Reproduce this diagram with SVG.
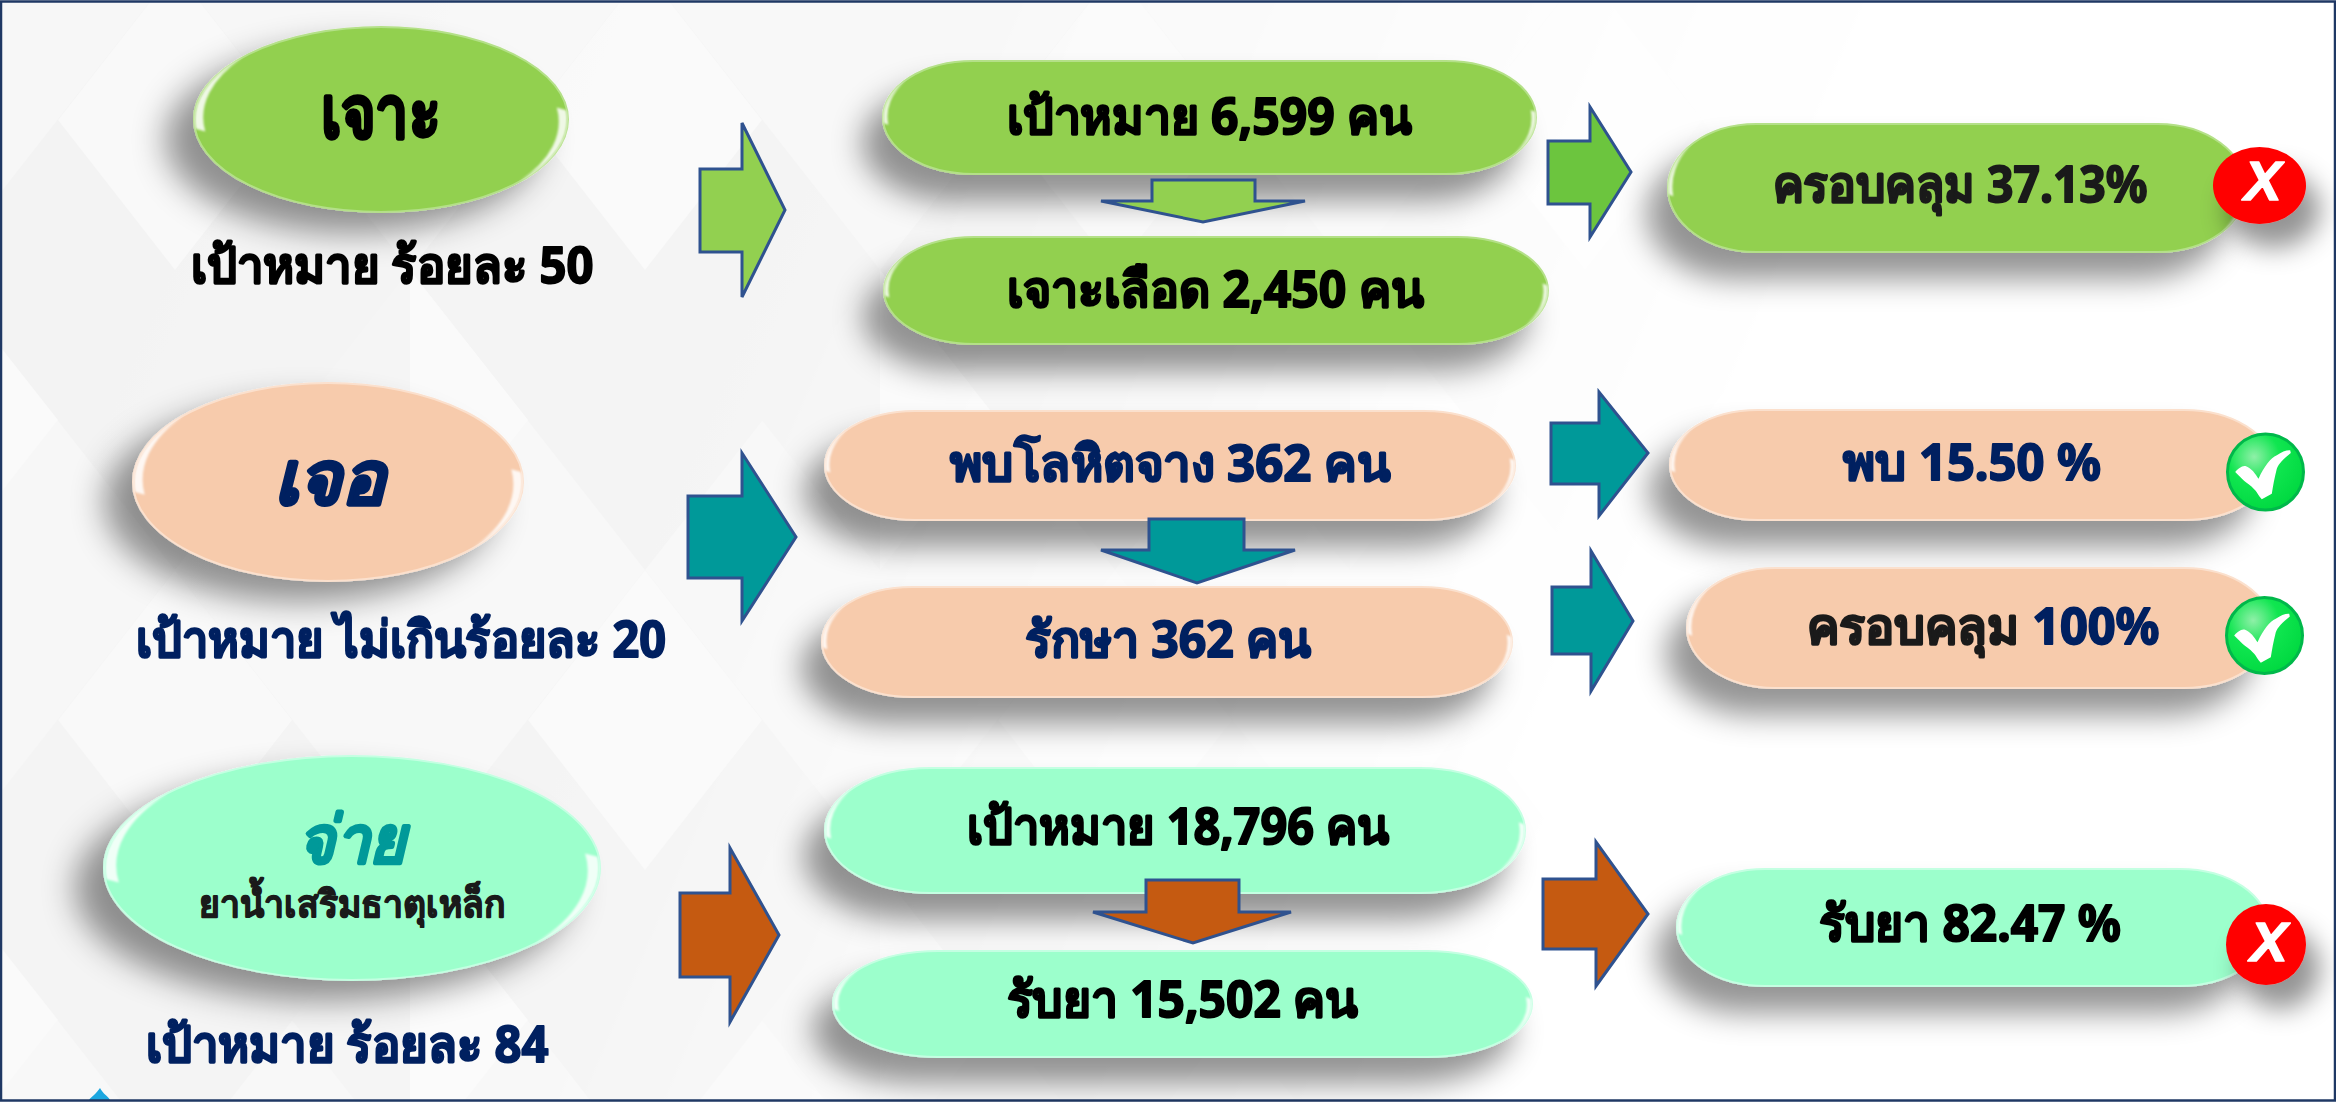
<svg xmlns="http://www.w3.org/2000/svg" width="2336" height="1102" viewBox="0 0 2336 1102">
<style>
text{font-family:"Noto Sans",sans-serif;font-weight:700;text-anchor:middle;stroke-width:1.9;stroke-linejoin:round}
.k{fill:#000;stroke:#000}.n{fill:#002060;stroke:#002060}.d{fill:#1a1a1a;stroke:#1a1a1a}.t{fill:#009999;stroke:#009999}
.i{font-style:italic}
.x{font-family:"Liberation Sans",sans-serif;font-style:italic;font-size:56px;fill:#fff;stroke:#fff;stroke-width:1.5}
.a{stroke:#2f528f;stroke-width:3;stroke-linejoin:miter}
.g{fill:#92d050;stroke:#b4e088;stroke-width:2}
.p{fill:#f7cbac;stroke:#fbe0cd;stroke-width:2}
.m{fill:#9cffcc;stroke:#c4ffe2;stroke-width:2}
.hl{fill:#fff;opacity:.85}
</style>
<defs>
<linearGradient id="fade" x1="0" y1="0" x2="1" y2="0.2">
<stop offset="0" stop-color="#fff"/><stop offset=".4" stop-color="#ddd"/><stop offset=".62" stop-color="#555"/><stop offset=".8" stop-color="#000"/>
</linearGradient>
<mask id="fm" maskUnits="userSpaceOnUse" x="0" y="0" width="2336" height="1102"><rect width="2336" height="1102" fill="url(#fade)"/></mask>
<pattern id="dia" width="470" height="600" patternUnits="userSpaceOnUse" x="-60" y="-30">
<rect width="470" height="600" fill="#f7f7f7"/>
<polygon points="235,0 470,300 235,600 0,300" fill="#f3f3f3"/>
<polygon points="235,0 352,150 235,300 118,150" fill="#f9f9f9"/>
<polygon points="0,300 118,450 0,600" fill="#fafafa"/>
<polygon points="470,300 352,450 470,600" fill="#f4f4f4"/>
</pattern>
<radialGradient id="tg" cx=".35" cy=".3" r=".75"><stop offset="0" stop-color="#8ff0a8"/><stop offset=".45" stop-color="#10e650"/><stop offset="1" stop-color="#00d840"/></radialGradient>
<filter id="sh" x="-25%" y="-40%" width="150%" height="220%"><feDropShadow dx="-20" dy="26" stdDeviation="15" flood-color="#000" flood-opacity=".42"/></filter>
<filter id="se" x="-25%" y="-30%" width="150%" height="180%"><feDropShadow dx="-28" dy="20" stdDeviation="16" flood-color="#000" flood-opacity=".42"/></filter>
<filter id="sb" x="-60%" y="-60%" width="260%" height="260%"><feDropShadow dx="14" dy="24" stdDeviation="13" flood-color="#000" flood-opacity=".42"/></filter>
<filter id="gl" x="-10%" y="-10%" width="120%" height="120%"><feGaussianBlur stdDeviation="1"/></filter>
<path id="hl" class="hl" d="M-.99,.1A1,1 0 0 1 -.74,-.67A1.1,1.1 0 0 0 -.94,.13Z"/>
<g id="tick">
<circle r="38" fill="url(#tg)" stroke="#00b84a" stroke-width="3"/>
<path fill="#fff" d="M-30.3,0C-26,-5 -23,-6 -20,-6C-14,-4 -10,2 -7,6.700C-1,-6 5,-14 11.300,-16.700C16,-20 21,-22 24.700,-21.700L25.300,-19C18,-13 13,-8 11.300,-3.300C9,6 7.500,14 6.300,21.700L-3.700,27.300C-7,24 -8,21 -10.300,18.300C-15,13 -19,11 -22,8.300Z"/>
</g>
</defs>

<g id="background">
<rect width="2336" height="1102" fill="#fff"/>
<rect width="2336" height="1102" fill="url(#dia)" mask="url(#fm)"/>
<path d="M89,1100C91,1097 96,1094 100,1088C103,1094 108,1096 110,1100Z" fill="#1ca7e0"/>
<rect x="1" y="1.500" width="2334" height="1099" fill="none" stroke="#1f3864" stroke-width="2.500"/>
</g>

<g id="n-jor">
<ellipse cx="381" cy="119.500" rx="187" ry="92.500" class="g" filter="url(#se)"/>
<g filter="url(#gl)"><use href="#hl" transform="translate(381,119.500) scale(187,92.500)"/><use href="#hl" transform="translate(381,119.500) scale(-187,-92.500)"/></g>
<text x="381" y="138" font-size="74" class="k" textLength="120" lengthAdjust="spacingAndGlyphs" style="stroke-width:3">เจาะ</text>
</g>
<g id="n-jor-goal"><text x="392" y="283" font-size="50" class="k" textLength="403" lengthAdjust="spacingAndGlyphs">เป้าหมาย ร้อยละ 50</text></g>

<g id="n-target1">
<rect x="883" y="61" width="653" height="113" rx="90" ry="56.500" class="g" filter="url(#sh)"/>
<g filter="url(#gl)"><use href="#hl" transform="translate(973,117.500) scale(90,56.500)"/><use href="#hl" transform="translate(1446,117.500) scale(-90,-56.500)"/></g>
<text x="1209" y="134" font-size="50" class="k" textLength="405" lengthAdjust="spacingAndGlyphs">เป้าหมาย 6,599 คน</text>
</g>
<g id="n-drawn">
<rect x="884" y="237" width="664" height="107" rx="90" ry="53.500" class="g" filter="url(#sh)"/>
<g filter="url(#gl)"><use href="#hl" transform="translate(974,290.500) scale(90,53.500)"/><use href="#hl" transform="translate(1458,290.500) scale(-90,-53.500)"/></g>
<text x="1215" y="307" font-size="50" class="k" textLength="417" lengthAdjust="spacingAndGlyphs">เจาะเลือด 2,450 คน</text>
</g>
<g id="n-coverage1">
<rect x="1668" y="124" width="578" height="128" rx="88" ry="64" class="g" filter="url(#sh)"/>
<g filter="url(#gl)"><use href="#hl" transform="translate(1756,188) scale(88,64)"/><use href="#hl" transform="translate(2158,188) scale(-88,-64)"/></g>
<text x="1960" y="202" font-size="50" class="d" textLength="375" lengthAdjust="spacingAndGlyphs">ครอบคลุม 37.13%</text>
</g>
<g id="n-badge1">
<ellipse cx="2259.500" cy="185.500" rx="46.500" ry="38.500" fill="#ff0000" filter="url(#sb)"/>
<text x="2263" y="200" class="x">X</text>
</g>

<g id="n-jur">
<ellipse cx="328" cy="482" rx="195" ry="99" class="p" filter="url(#se)"/>
<g filter="url(#gl)"><use href="#hl" transform="translate(328,482) scale(195,99)"/><use href="#hl" transform="translate(328,482) scale(-195,-99)"/></g>
<text x="329" y="504" font-size="74" class="n i" textLength="111" lengthAdjust="spacingAndGlyphs" style="stroke-width:3">เจอ</text>
</g>
<g id="n-jur-goal"><text x="401" y="657" font-size="50" class="n" textLength="530" lengthAdjust="spacingAndGlyphs">เป้าหมาย ไม่เกินร้อยละ 20</text></g>

<g id="n-anemia">
<rect x="825" y="411" width="690" height="109" rx="90" ry="54.500" class="p" filter="url(#sh)"/>
<g filter="url(#gl)"><use href="#hl" transform="translate(915,465.500) scale(90,54.500)"/><use href="#hl" transform="translate(1425,465.500) scale(-90,-54.500)"/></g>
<text x="1170" y="481" font-size="50" class="n" textLength="440" lengthAdjust="spacingAndGlyphs">พบโลหิตจาง 362 คน</text>
</g>
<g id="n-treat">
<rect x="822" y="587" width="690" height="110" rx="90" ry="55" class="p" filter="url(#sh)"/>
<g filter="url(#gl)"><use href="#hl" transform="translate(912,642) scale(90,55)"/><use href="#hl" transform="translate(1422,642) scale(-90,-55)"/></g>
<text x="1168" y="657" font-size="50" class="n" textLength="286" lengthAdjust="spacingAndGlyphs">รักษา 362 คน</text>
</g>
<g id="n-found">
<rect x="1670" y="410" width="602" height="110" rx="88" ry="55" class="p" filter="url(#sh)"/>
<g filter="url(#gl)"><use href="#hl" transform="translate(1758,465) scale(88,55)"/><use href="#hl" transform="translate(2184,465) scale(-88,-55)"/></g>
<text x="1972" y="480" font-size="50" class="n" textLength="258" lengthAdjust="spacingAndGlyphs">พบ 15.50 %</text>
</g>
<g id="n-tick1"><use href="#tick" transform="translate(2265.500,472)"/></g>
<g id="n-coverage2">
<rect x="1687" y="568" width="585" height="120" rx="88" ry="60" class="p" filter="url(#sh)"/>
<g filter="url(#gl)"><use href="#hl" transform="translate(1775,628) scale(88,60)"/><use href="#hl" transform="translate(2184,628) scale(-88,-60)"/></g>
<text x="1983" y="644" font-size="50" class="d" textLength="353" lengthAdjust="spacingAndGlyphs">ครอบคลุม <tspan class="n">100%</tspan></text>
</g>
<g id="n-tick2"><use href="#tick" transform="translate(2264.500,635.500)"/></g>

<g id="n-jai">
<ellipse cx="352" cy="868" rx="248" ry="112" class="m" filter="url(#se)"/>
<g filter="url(#gl)"><use href="#hl" transform="translate(352,868) scale(248,112)"/><use href="#hl" transform="translate(352,868) scale(-248,-112)"/></g>
<text x="352" y="863" font-size="66" class="t i" textLength="108" lengthAdjust="spacingAndGlyphs" style="stroke-width:2.5">จ่าย</text>
<text x="352" y="917" font-size="37" class="d" textLength="306" lengthAdjust="spacingAndGlyphs" style="stroke-width:1.2">ยาน้ำเสริมธาตุเหล็ก</text>
</g>
<g id="n-jai-goal"><text x="347" y="1062" font-size="50" class="n" textLength="403" lengthAdjust="spacingAndGlyphs">เป้าหมาย ร้อยละ 84</text></g>

<g id="n-target3">
<rect x="825" y="768" width="700" height="125" rx="105" ry="62.500" class="m" filter="url(#sh)"/>
<g filter="url(#gl)"><use href="#hl" transform="translate(930,830.500) scale(105,62.500)"/><use href="#hl" transform="translate(1420,830.500) scale(-105,-62.500)"/></g>
<text x="1178" y="844" font-size="50" class="k" textLength="422" lengthAdjust="spacingAndGlyphs">เป้าหมาย 18,796 คน</text>
</g>
<g id="n-received">
<rect x="833" y="951" width="699" height="106" rx="105" ry="53" class="m" filter="url(#sh)"/>
<g filter="url(#gl)"><use href="#hl" transform="translate(938,1004) scale(105,53)"/><use href="#hl" transform="translate(1427,1004) scale(-105,-53)"/></g>
<text x="1182" y="1017" font-size="50" class="k" textLength="351" lengthAdjust="spacingAndGlyphs">รับยา 15,502 คน</text>
</g>
<g id="n-rate">
<rect x="1677" y="869" width="591" height="117" rx="88" ry="58.500" class="m" filter="url(#sh)"/>
<g filter="url(#gl)"><use href="#hl" transform="translate(1765,927.500) scale(88,58.500)"/><use href="#hl" transform="translate(2180,927.500) scale(-88,-58.500)"/></g>
<text x="1970" y="941" font-size="50" class="k" textLength="302" lengthAdjust="spacingAndGlyphs">รับยา 82.47 %</text>
</g>
<g id="n-badge3">
<ellipse cx="2266" cy="944.500" rx="40" ry="40.500" fill="#ff0000" filter="url(#sb)"/>
<text x="2269" y="961" class="x">X</text>
</g>

<g id="connectors">
<polygon class="a" fill="#92d050" points="700,169 742,169 742,123 785,210 742,297 742,252 700,252"/>
<polygon class="a" fill="#92d050" points="1152,180 1255,180 1255,201 1305,201 1203,222 1101,201 1152,201"/>
<polygon class="a" fill="#6cc53e" points="1548,141 1590,141 1590,107 1631,172 1590,237 1590,204 1548,204"/>
<polygon class="a" fill="#009999" points="688,496 742,496 742,453 796,537 742,621 742,578 688,578"/>
<polygon class="a" fill="#009999" points="1149,519 1244,519 1244,550 1295,550 1197,583 1101,550 1149,550"/>
<polygon class="a" fill="#009999" points="1551,423 1599,423 1599,392 1648,453 1599,516 1599,484 1551,484"/>
<polygon class="a" fill="#009999" points="1552,587 1591,587 1591,551 1633,621 1591,691 1591,654 1552,654"/>
<polygon class="a" fill="#c55a11" points="680,893 730,893 730,848 779,935 730,1022 730,977 680,977"/>
<polygon class="a" fill="#c55a11" points="1146,880 1239,880 1239,912 1291,912 1193,943 1093,912 1146,912"/>
<polygon class="a" fill="#c55a11" points="1543,879 1596,879 1596,842 1648,914 1596,986 1596,949 1543,949"/>
</g>
</svg>
